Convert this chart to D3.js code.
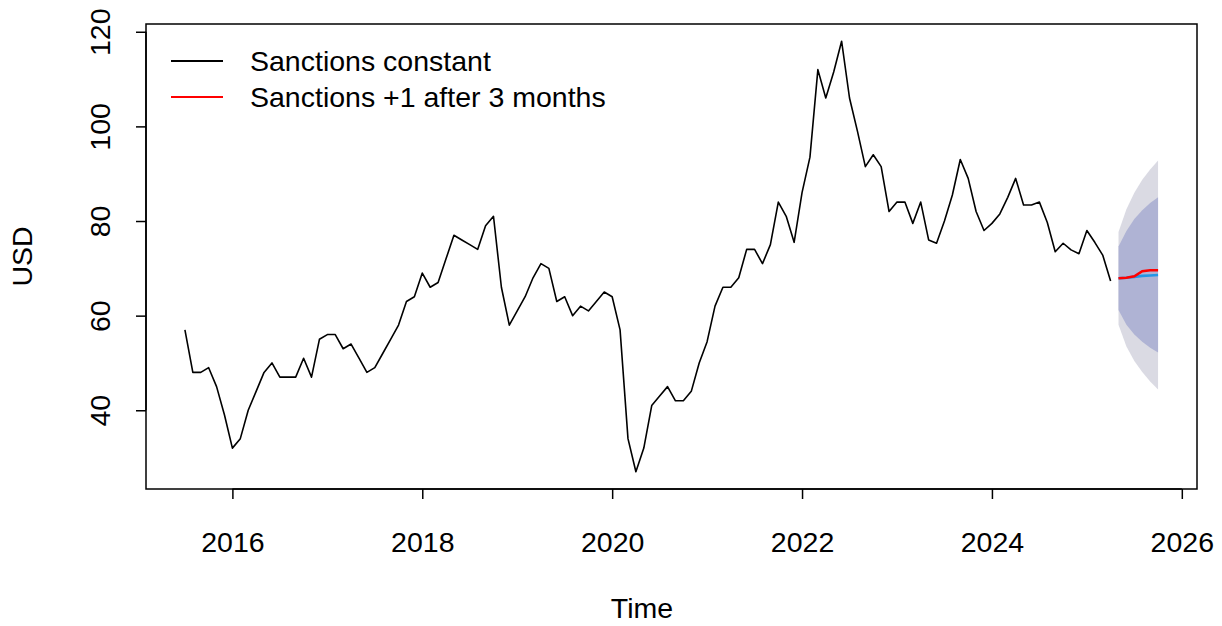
<!DOCTYPE html>
<html>
<head>
<meta charset="utf-8">
<script src="https://cdn.jsdelivr.net/npm/d3@7"></script>
<style>
  html, body { margin: 0; padding: 0; background: #fff; }
  svg { display: block; }
  text { font-family: "Liberation Sans", Arial, sans-serif; fill: #000; }
</style>
</head>
<body>
<svg id="chart" width="1222" height="626"></svg>
<script>
// Monthly price series, starting July 2015
const startYear = 2015;
const startMonth = 7;
const price = [
  57, 48, 48, 49, 45, 39, 32, 34, 40, 44, 48, 50,
  47, 47, 47, 51, 47, 55, 56, 56, 53, 54, 51, 48,
  49, 52, 55, 58, 63, 64, 69, 66, 67, 72, 77, 76,
  75, 74, 79, 81, 66, 58, 61, 64, 68, 71, 70, 63,
  64, 60, 62, 61, 63, 65, 64, 57, 34, 27, 32, 41,
  43, 45, 42, 42, 44, 50, 54.5, 62, 66, 66, 68, 74,
  74, 71, 75, 84, 81, 75.5, 86, 93.5, 112, 106, 111.5, 118,
  106, 99, 91.5, 94, 91.5, 82, 84, 84, 79.5, 84, 76, 75.3,
  80, 85.5, 93, 89, 82, 78, 79.5, 81.5, 85, 89, 83.4, 83.4,
  84, 79.7, 73.5, 75.3, 73.9, 73.1, 78, 75.5, 72.8, 67.3
];

// Six-month forecast (May-Oct 2025)
const fcConstant = [67.9, 68.0, 68.2, 68.4, 68.5, 68.6];
const fcSanctions = [67.9, 68.0, 68.3, 69.4, 69.6, 69.6];
const lo80 = [61.2, 58.1, 56.0, 54.5, 53.2, 52.2];
const hi80 = [74.6, 77.9, 80.4, 82.3, 83.8, 85.0];
const lo95 = [58.1, 53.5, 50.4, 48.1, 46.1, 44.4];
const hi95 = [77.7, 82.5, 86.0, 88.7, 90.9, 92.8];

const xTicks = [2016, 2018, 2020, 2022, 2024, 2026];
const yTicks = [40, 60, 80, 100, 120];
const legendLabels = ["Sanctions constant", "Sanctions +1 after 3 months"];
const legendColors = ["#000000", "#FF0000"];

const t0 = startYear + (startMonth - 1) / 12;
const histT = price.map((_, i) => t0 + i / 12);
const fcT = fcConstant.map((_, i) => t0 + (price.length + i) / 12);

const svg = d3.select("#chart");
const plot = { left: 146, right: 1197, top: 24, bottom: 489 };
const FONT = 28.5;
const FAMILY = "Liberation Sans, Arial, sans-serif";

// Domains padded by 4% on each side
function padded(lo, hi) { const p = (hi - lo) * 0.04; return [lo - p, hi + p]; }
const xDom = padded(d3.min(histT), d3.max(fcT));
const yDom = padded(d3.min([...price, ...lo95]), d3.max([...price, ...hi95]));

const x = d3.scaleLinear().domain(xDom).range([plot.left, plot.right]);
const y = d3.scaleLinear().domain(yDom).range([plot.bottom, plot.top]);

// Prediction intervals
const band = (lo, hi) => d3.area()
  .x((d, i) => x(fcT[i]))
  .y0((d, i) => y(lo[i]))
  .y1((d, i) => y(hi[i]));
svg.append("path").datum(fcT).attr("d", band(lo95, hi95)).attr("fill", "#DADAE3");
svg.append("path").datum(fcT).attr("d", band(lo80, hi80)).attr("fill", "#AFB3D4");

// History line
const line = d3.line().x(d => x(d[0])).y(d => y(d[1]));
svg.append("path")
  .datum(histT.map((t, i) => [t, price[i]]))
  .attr("d", line).attr("fill", "none")
  .attr("stroke", "#000").attr("stroke-width", 1.6).attr("stroke-linejoin", "round");

// Forecast means
svg.append("path")
  .datum(fcT.map((t, i) => [t, fcConstant[i]]))
  .attr("d", line).attr("fill", "none")
  .attr("stroke", "#2297E6").attr("stroke-width", 2.6);
svg.append("path")
  .datum(fcT.map((t, i) => [t, fcSanctions[i]]))
  .attr("d", line).attr("fill", "none")
  .attr("stroke", "#FF0000").attr("stroke-width", 2.6);

// Frame
svg.append("rect")
  .attr("x", plot.left).attr("y", plot.top)
  .attr("width", plot.right - plot.left).attr("height", plot.bottom - plot.top)
  .attr("fill", "none").attr("stroke", "#000").attr("stroke-width", 1.5);

// Axes
const xAxis = svg.append("g")
  .attr("transform", `translate(0,${plot.bottom})`)
  .call(d3.axisBottom(x).tickValues(xTicks).tickFormat(d3.format("d")).tickSize(10).tickPadding(33).tickSizeOuter(0));
xAxis.select(".domain").attr("d", `M${x(xTicks[0])},0H${x(xTicks[xTicks.length - 1])}`).attr("stroke-width", 1.5);
xAxis.selectAll(".tick line").attr("stroke-width", 1.5);
xAxis.selectAll("text").attr("font-size", FONT).attr("font-family", FAMILY).attr("fill", "#000");

const yAxis = svg.append("g")
  .attr("transform", `translate(${plot.left},0)`)
  .call(d3.axisLeft(y).tickValues(yTicks).tickSize(10).tickSizeOuter(0));
yAxis.select(".domain").attr("d", `M0,${y(yTicks[0])}V${y(yTicks[yTicks.length - 1])}`).attr("stroke-width", 1.5);
yAxis.selectAll(".tick line").attr("stroke-width", 1.5);
yAxis.selectAll(".tick text")
  .attr("x", null).attr("dy", null)
  .attr("transform", "translate(-36,0) rotate(-90)")
  .attr("text-anchor", "middle").attr("dominant-baseline", "auto")
  .attr("y", 0)
  .attr("font-size", FONT).attr("font-family", FAMILY).attr("fill", "#000");

// Axis titles
svg.append("text")
  .attr("x", 642).attr("y", 618)
  .attr("text-anchor", "middle").attr("font-size", FONT).text("Time");
svg.append("text")
  .attr("transform", `translate(32,${(plot.top + plot.bottom) / 2}) rotate(-90)`)
  .attr("text-anchor", "middle").attr("font-size", FONT).text("USD");

// Legend
const legend = svg.append("g");
legendLabels.forEach((lab, i) => {
  const ly = 61 + i * 36;
  legend.append("line")
    .attr("x1", 171).attr("x2", 223).attr("y1", ly).attr("y2", ly)
    .attr("stroke", legendColors[i]).attr("stroke-width", 2);
  legend.append("text")
    .attr("x", 250).attr("y", ly).attr("dy", "0.35em")
    .attr("font-size", FONT).text(lab);
});
</script>
</body>
</html>
